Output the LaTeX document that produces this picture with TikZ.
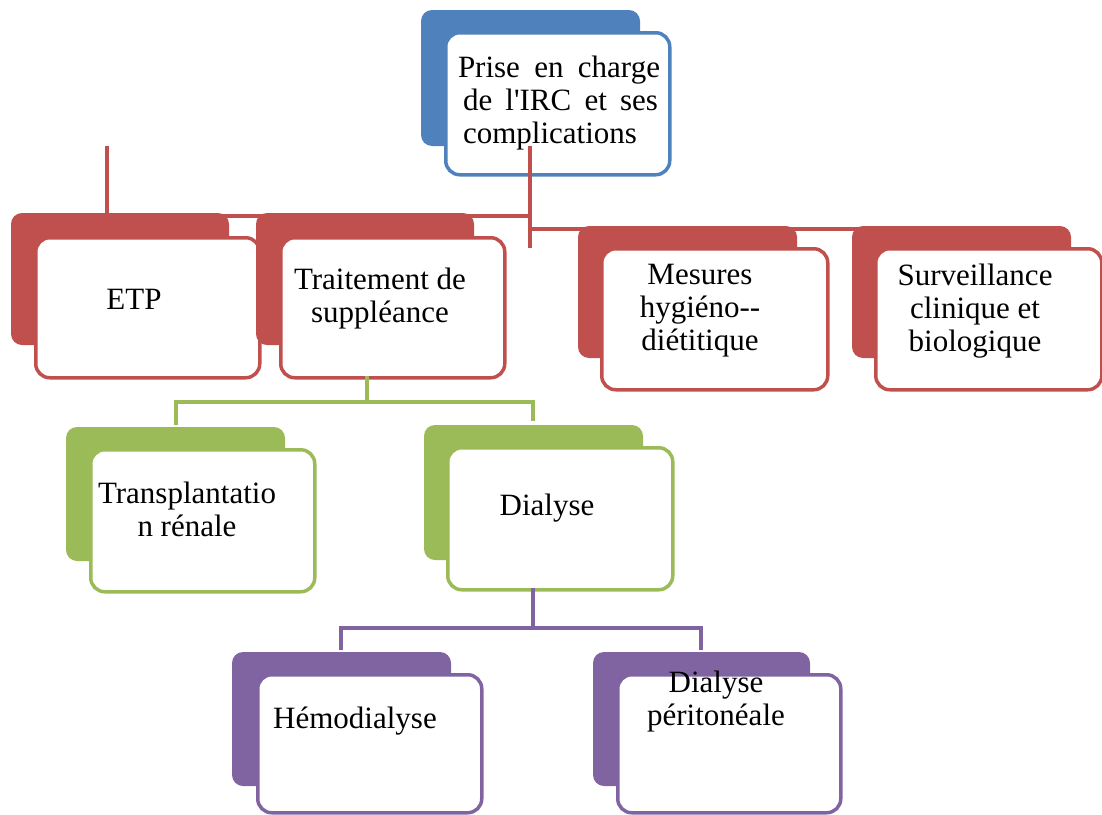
\documentclass[tikz,border=0pt]{standalone}
\usepackage{fontspec}
\setmainfont{Liberation Serif}
\definecolor{cblue}{HTML}{4F81BD}
\definecolor{cred}{HTML}{C0504D}
\definecolor{cgreen}{HTML}{9BBB59}
\definecolor{cpurple}{HTML}{8064A2}
\tikzset{
  backbox/.style={fill=#1, draw=none, rounded corners=11pt},
  frontbox/.style={draw=#1, line width=3.5pt, fill=white, rounded corners=14pt,
    anchor=north west, inner sep=0pt},
  conn/.style={draw=#1, line width=4.5pt},
  lbl/.style={align=center, inner sep=0pt, font=\fontsize{31}{33}\selectfont}
}
\begin{document}
\begin{tikzpicture}[x=1pt,y=-1pt]
\useasboundingbox (0,0) rectangle (1102,814);
% ---- top box ----
\path[backbox=cblue] (421,10) rectangle (640,146);
\node[frontbox=cblue, minimum width=224pt, minimum height=142pt] (top) at (444,31) {};
\node[lbl, align=left] (ttop) at (559,103)
  {\makebox[202pt][s]{Prise en charge}\\
   \hspace*{5pt}\makebox[195pt][s]{de l\textquotesingle IRC et ses}\\
   \hspace*{5pt}complications\hspace*{12pt}};
% ---- red connectors ----
\coordinate (rs) at (107,146);
\coordinate (rj1) at (107,216);
\coordinate (rj2) at (530,216);
\coordinate (rv1) at (530,146);
\coordinate (rv2) at (530,248);
\coordinate (rj3) at (530,229);
\coordinate (rj4) at (862,229);
\draw[conn=cred] (rs) -- (rj1) -- (rj2);
\draw[conn=cred] (rj3) -- (rj4);
\draw[conn=cred] (rv1) -- (rv2);
% ---- red boxes ----
\path[backbox=cred] (11,213) rectangle (229,345);
\node[frontbox=cred, minimum width=224pt, minimum height=140pt] (etp) at (34,236) {};
\node[lbl] (tetp) at (134,299) {ETP};
\path[backbox=cred] (256,213) rectangle (474,345);
\node[frontbox=cred, minimum width=224pt, minimum height=140pt] (trait) at (279,236) {};
\node[lbl] (ttrait) at (380,299) {Traitement de\\suppléance};
\path[backbox=cred] (578,226) rectangle (797,358);
\node[frontbox=cred, minimum width=226pt, minimum height=141pt] (mes) at (600,247) {};
\node[lbl] (tmes) at (700,311) {Mesures\\hygiéno\mbox{-}\mbox{-}\\diétitique};
\path[backbox=cred] (852,226) rectangle (1071,358);
\node[frontbox=cred, minimum width=226pt, minimum height=141pt] (surv) at (874,247) {};
\node[lbl] (tsurv) at (975,311) {Surveillance\\clinique et\\biologique};
% ---- green connectors ----
\coordinate (gs) at (367,376);
\coordinate (gj) at (367,402);
\coordinate (gl) at (176,425);
\coordinate (gr) at (533,421);
\draw[conn=cgreen] (gs) -- (gj);
\draw[conn=cgreen] (gl) |- (gj) -| (gr);
% ---- green boxes ----
\path[backbox=cgreen] (66,427) rectangle (285,561);
\node[frontbox=cgreen, minimum width=224pt, minimum height=142pt] (transp) at (89,448) {};
\node[lbl] (ttransp) at (187,509) {Transplantatio\\n rénale};
\path[backbox=cgreen] (424,425) rectangle (643,560);
\node[frontbox=cgreen, minimum width=225pt, minimum height=142pt] (dial) at (446,446) {};
\node[lbl] (tdial) at (547,508) {Dialyse};
% ---- purple connectors ----
\coordinate (ps) at (533,588);
\coordinate (pj) at (533,628);
\coordinate (pl) at (341,650);
\coordinate (pr) at (701,650);
\draw[conn=cpurple] (ps) -- (pj);
\draw[conn=cpurple] (pl) |- (pj) -| (pr);
% ---- purple boxes ----
\path[backbox=cpurple] (232,652) rectangle (451,786);
\node[frontbox=cpurple, minimum width=224pt, minimum height=138pt] (hemo) at (256,673) {};
\node[lbl] (themo) at (355,721) {Hémodialyse};
\path[backbox=cpurple] (593,652) rectangle (810,786);
\node[frontbox=cpurple, minimum width=223pt, minimum height=138pt] (peri) at (616,673) {};
\node[lbl] (tperi) at (716,702) {Dialyse\\péritonéale};
\end{tikzpicture}
\end{document}
